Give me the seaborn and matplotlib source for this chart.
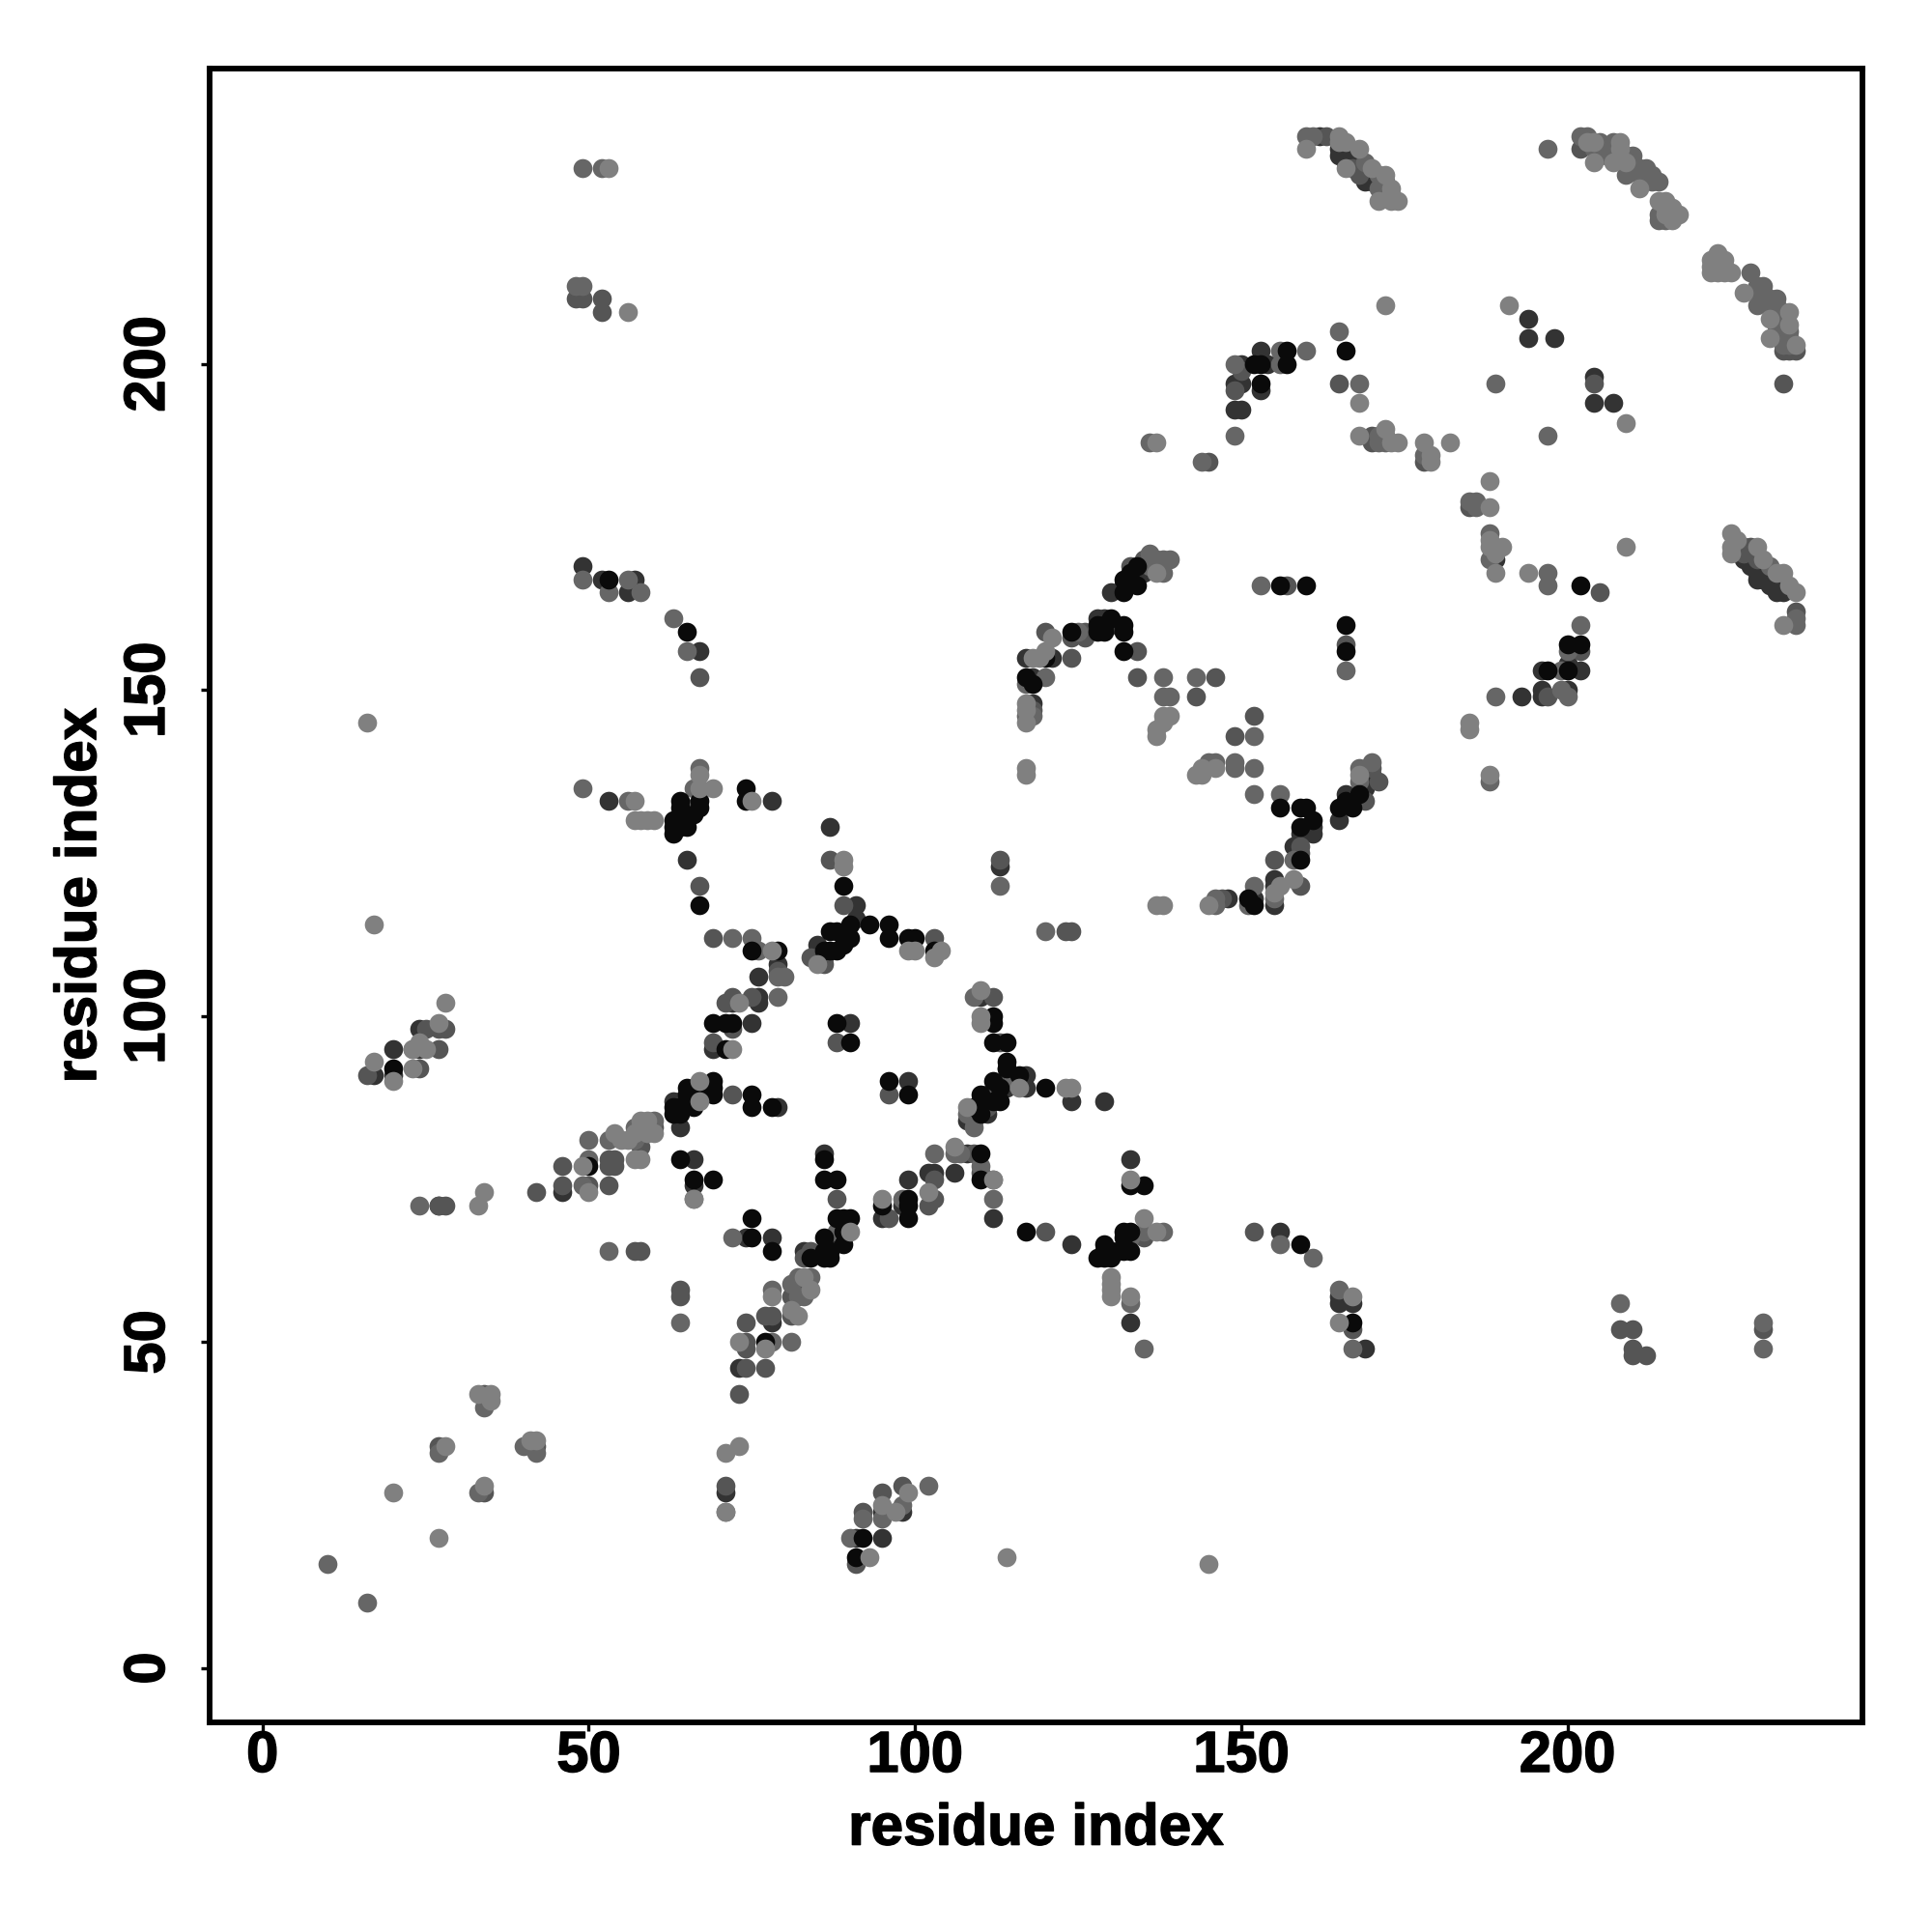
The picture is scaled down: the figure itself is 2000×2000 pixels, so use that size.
import matplotlib
matplotlib.use("Agg")
import pandas as pd
import seaborn as sns
import matplotlib.pyplot as plt
import matplotlib.patheffects as pe

# contacts (residue i, residue j), one list per grey level
black_pts = [
    (50,77),(64,78),(66,75),(69,75),(75,69),(75,66),(78,64),(77,50),(92,20),
    (69,90),(69,89),(69,88),(67,88),(65,89),(65,88),(66,86),(64,86),(65,87),(63,86),(63,85),(64,85),
    (75,88),(75,86),(78,86),(96,90),(99,88),(114,92),(116,91),(112,90),(113,89),(110,88),
    (113,87),(112,87),(110,87),(109,86),(110,85),(120,89),(110,79),(110,75),(99,72),(99,71),(95,71),(99,69),
    (86,78),(86,75),(88,75),(88,69),(89,69),(90,69),(89,67),(89,65),(86,66),(86,64),(87,64),(87,63),(84,63),(86,63),
    (117,67),(67,133),(67,132),(64,133),(64,132),(63,130),(64,130),(63,129),(65,129),(63,128),(64,129),(66,131),
    (74,135),(74,133),(89,120),(67,117),(93,114),(96,114),(96,112),(99,112),(100,112),(103,110),
    (90,114),(90,112),(88,113),(87,113),(88,110),(86,110),(87,110),(89,111),(75,110),(79,110),
    (69,99),(71,99),(72,99),(71,95),(88,99),(90,96),(112,100),(112,99),(112,96),(114,96),(114,93),
    (133,74),(135,74),(132,67),(133,67),(132,66),(133,64),(132,64),(129,65),(128,63),(129,63),(130,63),(129,64),(130,64),
    (159,65),(167,53),
    (156,166),(160,166),(166,160),(166,156),(134,169),(133,168),(132,167),(134,166),(132,165),(130,161),
    (128,159),(129,159),(132,160),(132,159),(129,160),(124,159),(128,160),(120,155),(132,156),(117,152),(118,151),
    (156,132),(159,132),(160,132),(161,130),(159,129),(159,124),(151,118),(152,117),
    (165,132),(166,133),(167,132),(168,134),
    (166,202),(157,202),(157,200),(153,200),(153,197),(152,200),
    (202,166),(200,157),(202,157),(200,153),(197,153),(53,167),(65,159),(20,92),(91,17),
]
dark_pts = [
    (27,71),(66,78),(66,74),(46,73),(74,66),(78,66),(73,46),(71,27),(78,53),
    (98,24),(95,24),(91,20),(95,20),(64,87),(63,87),(64,83),(79,86),
    (99,90),(117,91),(117,89),(114,89),(124,87),(129,87),(111,85),(109,85),(108,84),(108,79),
    (103,76),(102,76),(106,76),(99,75),(98,71),(95,69),(86,79),(87,65),(83,64),
    (112,69),(124,65),(65,124),(78,133),(87,129),(91,117),(91,115),(85,111),(86,109),
    (79,108),(76,106),(72,102),(76,103),(76,102),(75,99),(69,95),(90,99),(110,103),(113,123),
    (133,78),(131,64),(156,67),(133,53),(165,56),(165,57),(167,56),(169,49),
    (53,133),(49,169),(52,167),(56,165),(57,167),(67,156),
    (135,168),(132,166),(130,165),(128,161),(129,161),(130,160),(121,155),(117,155),(118,152),(118,148),
    (161,129),(160,129),(159,128),(161,128),(158,126),(155,121),(155,120),(155,117),(152,118),(148,118),
    (165,130),(166,134),(169,135),(170,137),
    (194,207),(194,204),(198,204),(204,198),(204,194),(207,194),(150,200),(153,202),(154,200),(153,196),(150,197),(149,197),(149,193),(150,193),
    (165,233),(165,232),(167,231),(166,231),(169,228),(170,228),(162,235),
    (166,233),(166,232),(167,232),(168,231),(168,230),(169,230),(169,229),(170,229),(171,228),
    (189,170),(200,154),(202,153),(196,153),(200,150),(196,150),(196,149),(193,149),
    (228,169),(229,167),(230,167),(232,165),(233,165),(231,166),(227,170),(228,170),(229,168),(230,168),(231,167),(232,166),(233,166),
    (24,98),(20,95),(24,95),(17,91),(20,91),
]
mid_pts = [
    (34,27),(27,34),(42,34),(34,42),(27,71),(28,71),(42,73),(46,74),(46,77),(50,74),(53,74),
    (53,78),(54,78),(53,77),(54,77),(57,64),(58,64),(64,58),(64,57),(74,53),(74,50),(74,49),(74,46),(77,54),(78,54),
    (77,46),(73,42),(81,54),(81,57),(82,58),(60,83),(58,80),(58,82),(71,28),(91,16),
    (95,27),(98,28),(92,24),(72,88),(96,88),(114,90),(111,88),(111,86),(109,84),(109,79),(103,75),(110,76),(103,72),(102,71),
    (96,69),(88,72),(83,63),(84,64),(120,67),(66,132),(87,124),(67,120),(89,117),(84,109),(86,108),(103,112),(113,124),
    (69,112),(79,107),(71,102),(72,103),(75,103),(72,98),(69,96),(88,96),(112,103),(113,96),(114,92),(123,113),(124,113),
    (135,66),(152,67),(167,52),(208,52),(210,52),(210,49),(212,48),(210,48),(230,52),(67,152),
    (157,166),(166,157),(135,170),(133,169),(133,167),(124,158),(126,159),(126,158),(120,159),(124,155),(134,156),
    (134,152),(146,152),(143,149),(118,147),(152,146),(149,143),(147,118),
    (159,126),(159,125),(155,124),(159,120),(169,133),(171,136),(170,138),(167,133),
    (163,235),(167,230),(168,229),(172,228),(172,227),(149,196),(150,199),(165,197),(204,197),(170,189),(170,188),(178,185),
    (145,185),(52,210),(52,208),(49,210),(48,210),(202,156),(197,149),(205,165),
    (202,233),(234,202),(233,202),(235,202),(233,197),(185,178),
    (227,172),(228,172),(227,171),(229,170),(235,162),(25,98),(27,98),(28,98),(27,95),(16,91),(24,92),
]
light_pts = [
    (10,16),(16,10),
    (33,27),(27,33),(40,34),(42,33),(34,40),(24,71),(50,81),(50,78),(49,74),(53,81),(57,83),(57,81),(59,83),(60,84),
    (53,64),(64,53),(71,24),(72,66),(78,58),(78,50),(81,50),(81,59),(82,60),(83,57),(82,57),(84,60),
    (102,28),(98,25),(95,23),(92,23),(90,20),(103,79),(106,79),(107,79),(110,77),(112,75),(112,72),(98,72),
    (88,67),(112,87),(108,85),(109,83),(67,138),(66,135),(56,133),(113,120),(120,113),(72,112),
    (75,112),(76,110),(80,106),(79,106),(79,103),(109,103),(49,135),(66,72),(115,90),
    (135,67),(138,67),(133,66),(133,56),(135,49),(156,65),(161,63),(165,58),(167,49),(208,56),(230,49),(230,53),
    (153,166),(166,153),(136,171),(137,170),(138,170),(139,170),(138,168),(136,169),(125,159),(120,152),(117,151),
    (117,146),(118,146),(138,152),(138,149),(139,149),(143,152),(152,143),(145,139),(146,139),(149,139),(149,138),(152,138),
    (152,134),(156,134),(158,124),(152,120),(155,118),(151,117),(146,118),(146,117),(168,138),(170,139),(168,136),
    (160,235),(161,235),(169,231),(171,229),(171,227),(172,226),(172,189),(172,188),(171,189),(171,188),(168,197),(165,205),(160,202),
    (156,202),(156,200),(149,200),(189,197),(197,189),(178,186),(149,189),(136,188),(144,185),(202,235),(203,235),(205,234),
    (207,234),(205,233),(207,233),(210,232),(209,229),(212,230),(211,229),(214,228),(214,222),(214,223),(215,222),(223,215),
    (204,233),(206,233),(206,232),(209,232),(210,231),(211,230),(212,229),(213,229),(213,228),
    (228,214),(230,212),(229,212),(229,209),(232,210),(231,209),(233,207),(233,204),(234,205),
    (229,211),(230,211),(231,210),(232,209),(233,208),(232,207),(232,206),(233,206),(233,205),(232,205),(234,204),(234,203),(233,203),
    (185,179),(186,179),(186,178),(188,174),(188,170),(197,168),(197,166),(202,160),(200,156),(199,153),(199,150),(200,149),
    (189,149),(188,136),(231,169),(235,161),(235,160),(49,230),(52,230),(48,212),(49,212),(49,167),(53,165),(56,167),(58,165),
    (63,161),(65,156),(197,233),(23,95),
]
pale_pts = [
    (20,27),(27,20),(34,28),(28,34),(41,35),(42,35),(33,42),(35,41),(35,42),(33,71),(34,73),(49,77),(50,73),
    (54,82),(55,81),(56,81),(58,84),(59,84),(58,83),(60,82),(59,82),(57,82),(57,78),(58,78),(66,72),(73,50),(77,49),
    (78,57),(82,54),(81,55),(83,60),(84,58),(71,33),(73,34),(71,24),(99,27),(97,24),(95,25),(93,17),
    (67,90),(67,87),(123,89),(124,89),(116,89),(106,80),(102,73),(95,72),(112,75),(108,86),(90,67),(133,75),(135,69),(137,67),
    (57,130),(58,130),(59,130),(60,130),(57,133),(67,137),(69,135),(67,135),(89,124),(89,123),(104,110),(103,109),
    (99,110),(100,110),(85,108),(75,133),(78,110),(73,102),(72,95),(110,104),(110,100),(110,99),(117,138),(117,137),
    (130,60),(130,59),(130,58),(130,57),(133,57),(165,53),(167,57),(114,17),(145,16),(137,117),(138,117),
    (137,168),(121,158),(120,156),(118,155),(119,155),(117,148),(117,147),(117,145),(138,146),(139,146),(137,144),(137,143),(138,145),
    (146,138),(144,138),(143,137),(144,137),(158,121),(156,120),(155,119),(145,117),(168,137),
    (165,235),(166,234),(165,234),(160,233),(168,233),(166,230),(170,230),(172,229),(173,226),(173,227),(171,225),(173,225),(174,225),
    (172,209),(191,209),(168,194),(168,189),(172,190),(173,188),(174,188),(178,188),(182,188),(179,186),(179,185),(188,182),(209,191),
    (203,234),(204,234),(208,234),(208,233),(204,231),(207,231),(209,231),(211,227),(214,225),(215,225),(216,224),(217,223),(215,224),(215,223),(216,223),(216,222),
    (223,217),(222,215),(222,216),(223,216),(222,214),(224,216),(224,215),(224,214),(225,214),(223,214),(227,211),(231,207),(234,208),(234,206),(231,204),(235,203),
    (188,178),(188,173),(188,172),(190,172),(189,171),(189,168),(194,168),(209,172),(185,145),(185,144),(188,137),
    (225,174),(226,173),(225,172),(225,171),(229,172),(230,170),(232,168),(233,168),(234,166),(235,165),(233,160),
    (16,145),(17,114),(28,102),(27,99),(25,95),(24,96),(23,95),(17,93),(20,90),(23,92),
    (53,230),(56,208),(137,188),
]

greys = {"pale": "#808080", "light": "#666666", "mid": "#555555", "dark": "#333333", "black": "#0a0a0a"}
groups = [("dark", dark_pts), ("mid", mid_pts), ("light", light_pts), ("black", black_pts), ("pale", pale_pts)]

xtick_vals = [0, 50, 100, 150, 200]
ytick_vals = [0, 50, 100, 150, 200]

sns.set_theme(style="white")
plt.rcParams["font.family"] = ["Liberation Sans", "DejaVu Sans"]
plt.rcParams["font.weight"] = "bold"

fig = plt.figure(figsize=(10, 10), dpi=200)
ax = fig.add_axes([217/2000, 1 - 1783/2000, 1711/2000, 1712/2000])

for name, pts in groups:
    df = pd.DataFrame(pts, columns=["i", "j"])
    sns.scatterplot(data=df, x="i", y="j", color=greys[name], s=50, linewidth=0, ax=ax, zorder=3)

ax.set_xlim(-8.1, 245.2)
ax.set_ylim(-8.3, 245.3)
ax.set_xticks(xtick_vals)
ax.set_yticks(ytick_vals)
ax.set_xticklabels([str(v) for v in xtick_vals], fontsize=21.5, fontweight="bold")
ax.set_yticklabels([str(v) for v in ytick_vals], fontsize=21.5, fontweight="bold", rotation=90, va="center")
ax.tick_params(axis="both", length=3.2, width=1.2, color="black", labelcolor="black", bottom=True, left=True)
ax.tick_params(axis="x", pad=-0.3)
ax.tick_params(axis="y", pad=9.4)
ax.set_xlabel("residue index", fontsize=21.7, fontweight="bold", color="black", labelpad=7.4)
ax.set_ylabel("residue index", fontsize=21.7, fontweight="bold", color="black", labelpad=5.7)
for s in ax.spines.values():
    s.set_visible(True)
    s.set_color("black")
    s.set_linewidth(2.1)

# the original type is heavier than Liberation bold
heavy = [pe.withStroke(linewidth=0.5, foreground="black")]
for t in ax.get_xticklabels() + ax.get_yticklabels() + [ax.xaxis.label, ax.yaxis.label]:
    t.set_path_effects(heavy)

fig.savefig("out.png", dpi=200, facecolor="white")
